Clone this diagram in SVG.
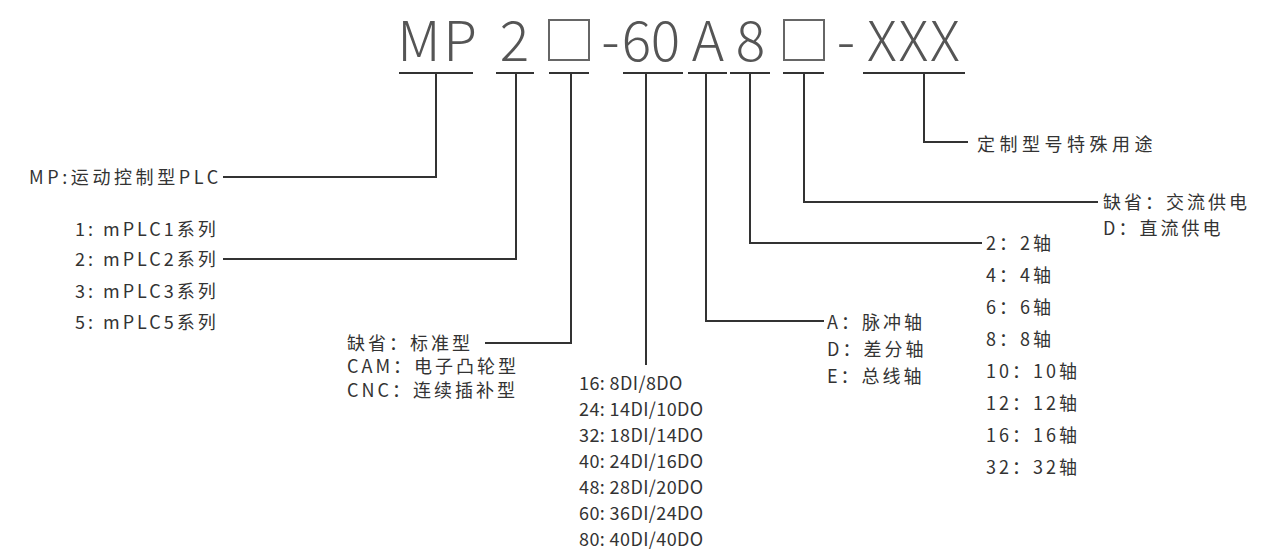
<svg xmlns="http://www.w3.org/2000/svg" width="1263" height="552" viewBox="0 0 1263 552">
<style>
.h{font-family:"Noto Sans CJK SC","Noto Sans",sans-serif;font-weight:300;font-size:55px;fill:#555;text-anchor:middle}
.t{font-family:"Noto Sans CJK SC","Noto Sans",sans-serif;font-size:18px;fill:#333;letter-spacing:3px}
.n{letter-spacing:0.4px}
.u{stroke:#333;stroke-width:2;fill:none}
.c{stroke:#333;stroke-width:2;fill:none}
.bx{stroke:#666;stroke-width:2;fill:none}
</style>
<rect width="1263" height="552" fill="#fff"/>
<g id="code">
<text class="h" x="419" y="61">M</text>
<text class="h" x="460" y="61">P</text>
<text class="h" x="514.5" y="61">2</text>
<rect class="bx" x="549" y="20" width="40" height="40"/>
<text class="h" x="610.5" y="61">-</text>
<text class="h" x="636.5" y="61">6</text>
<text class="h" x="665.5" y="61">0</text>
<text class="h" x="708" y="61">A</text>
<text class="h" x="750.5" y="61">8</text>
<rect class="bx" x="784" y="20" width="40" height="40"/>
<text class="h" x="846" y="61">-</text>
<text class="h" x="882" y="61">X</text>
<text class="h" x="913.5" y="61">X</text>
<text class="h" x="945" y="61">X</text>
<path class="u" d="M399 73H473M496 73H534M549 73H589M623 73H683M688 73H727M730 73H770M783 73H824M863 73H965"/>
</g>
<g id="connectors">
<path class="c" d="M924 73V142H968"/>
<path class="c" d="M804 73V202H1098"/>
<path class="c" d="M750 73V243H982"/>
<path class="c" d="M706 73V321H824"/>
<path class="c" d="M646 73V365"/>
<path class="c" d="M571 73V343H485"/>
<path class="c" d="M516 73V259H223"/>
<path class="c" d="M436 73V177H223"/>
</g>
<g id="node-mp">
<text class="t" x="29" y="184" style="letter-spacing:3.6px">MP:运动控制型PLC</text>
</g>
<g id="node-series">
<text class="t" x="75" y="236">1: mPLC1系列</text>
<text class="t" x="75" y="266">2: mPLC2系列</text>
<text class="t" x="75" y="298">3: mPLC3系列</text>
<text class="t" x="75" y="329">5: mPLC5系列</text>
</g>
<g id="node-type">
<text class="t" x="347" y="350">缺省：标准型</text>
<text class="t" x="347" y="373">CAM：电子凸轮型</text>
<text class="t" x="347" y="397">CNC：连续插补型</text>
</g>
<g id="node-io">
<text class="t n" x="579" y="390">16: 8DI/8DO</text>
<text class="t n" x="579" y="416">24: 14DI/10DO</text>
<text class="t n" x="579" y="442">32: 18DI/14DO</text>
<text class="t n" x="579" y="468">40: 24DI/16DO</text>
<text class="t n" x="579" y="494">48: 28DI/20DO</text>
<text class="t n" x="579" y="520">60: 36DI/24DO</text>
<text class="t n" x="579" y="546">80: 40DI/40DO</text>
</g>
<g id="node-axis-type">
<text class="t" x="827" y="329">A：脉冲轴</text>
<text class="t" x="827" y="356">D：差分轴</text>
<text class="t" x="827" y="383">E：总线轴</text>
</g>
<g id="node-axis-count">
<text class="t" x="986" y="250">2：2轴</text>
<text class="t" x="986" y="282">4：4轴</text>
<text class="t" x="986" y="314">6：6轴</text>
<text class="t" x="986" y="346">8：8轴</text>
<text class="t" x="986" y="378">10：10轴</text>
<text class="t" x="986" y="410">12：12轴</text>
<text class="t" x="986" y="442">16：16轴</text>
<text class="t" x="986" y="474">32：32轴</text>
</g>
<g id="node-power">
<text class="t" x="1103" y="209">缺省：交流供电</text>
<text class="t" x="1103" y="235">D：直流供电</text>
</g>
<g id="node-custom">
<text class="t" x="977" y="151" style="letter-spacing:4.5px">定制型号特殊用途</text>
</g>
</svg>
